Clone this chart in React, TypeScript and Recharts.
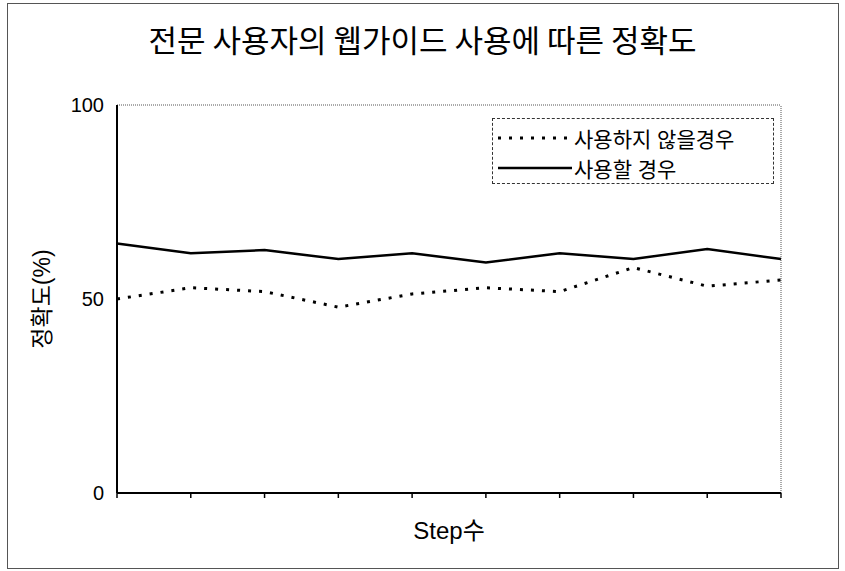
import React from 'react';
import {
  LineChart,
  Line,
  XAxis,
  YAxis,
  ReferenceLine,
  Legend,
} from 'recharts';

const steps = ['1', '2', '3', '4', '5', '6', '7', '8', '9', '10'];
const withoutGuide = [50, 52.9, 51.9, 47.9, 51.3, 52.9, 51.9, 58.1, 53.3, 54.9];
const withGuide = [64.3, 61.8, 62.6, 60.3, 61.8, 59.4, 61.8, 60.3, 62.9, 60.3];
const yTicks = [0, 50, 100];

const SERIES_NO = '사용하지 않을경우';
const SERIES_YES = '사용할 경우';

const data = steps.map((s, i) => ({
  step: s,
  [SERIES_NO]: withoutGuide[i],
  [SERIES_YES]: withGuide[i],
}));

const FONT = '"Liberation Sans", "Noto Sans CJK KR", sans-serif';

const LegendBox = ({ payload }: any) => (
  <div
    style={{
      border: '1px dashed #333',
      width: 282,
      height: 66,
      boxSizing: 'border-box',
      padding: '4px 0 0 5px',
      fontFamily: FONT,
      fontSize: 21,
      color: '#000',
      background: '#fff',
    }}
  >
    {(payload || []).map((p: any) => (
      <div
        key={p.value}
        style={{ display: 'flex', alignItems: 'center', height: 30 }}
      >
        <svg width={76} height={10}>
          <line
            x1={0}
            y1={5}
            x2={74}
            y2={5}
            stroke="#000"
            strokeWidth={p.value === SERIES_NO ? 3 : 2.5}
            strokeDasharray={p.value === SERIES_NO ? '3 8' : undefined}
          />
        </svg>
        <span>{p.value}</span>
      </div>
    ))}
  </div>
);

export default function App() {
  return (
    <div
      style={{
        position: 'absolute',
        left: 0,
        top: 0,
        width: 845,
        height: 571,
        background: '#fff',
        fontFamily: FONT,
      }}
    >
      <div
        style={{
          position: 'absolute',
          left: 7,
          top: 3,
          width: 830,
          height: 564,
          border: '1px solid #555',
        }}
      />
      <div
        style={{
          position: 'absolute',
          left: 0,
          top: 16,
          width: 845,
          textAlign: 'center',
          fontSize: 31,
          fontFamily: '"Noto Sans CJK KR", sans-serif',
          color: '#000',
        }}
      >
        전문 사용자의 웹가이드 사용에 따른 정확도
      </div>
      <div style={{ position: 'absolute', left: 0, top: 0 }}>
        <LineChart
          width={845}
          height={571}
          data={data}
          margin={{ top: 105, right: 64, bottom: 78, left: 42 }}
        >
          <ReferenceLine y={100} stroke="#555" strokeDasharray="1 1" />
          <ReferenceLine x="10" stroke="#555" strokeDasharray="1 1" />
          <XAxis
            dataKey="step"
            height={30}
            mirror
            tickFormatter={() => ''}
            tickSize={-5}
            tickLine={{ stroke: '#000', strokeWidth: 1.5 }}
            axisLine={{ stroke: '#000', strokeWidth: 2 }}
            label={{
              value: 'Step수',
              position: 'bottom',
              offset: 29,
              style: { fontSize: 24, fill: '#000', fontFamily: FONT },
            }}
          />
          <YAxis
            width={75}
            domain={[0, 100]}
            ticks={yTicks}
            tickLine={false}
            tickSize={0}
            tickMargin={13}
            axisLine={{ stroke: '#000', strokeWidth: 2 }}
            tick={{ fontSize: 20, fill: '#000', fontFamily: FONT }}
            label={{
              value: '정확도(%)',
              angle: -90,
              position: 'insideLeft',
              offset: 0,
              style: {
                textAnchor: 'middle',
                fontSize: 23,
                fill: '#000',
                fontFamily: FONT,
              },
            }}
          />
          <Legend
            layout="vertical"
            verticalAlign="middle"
            align="center"
            wrapperStyle={{ left: 492, top: 118, width: 284 }}
            content={<LegendBox />}
          />
          <Line
            type="linear"
            dataKey={SERIES_NO}
            stroke="#000"
            strokeWidth={3}
            strokeDasharray="3 8"
            dot={false}
            activeDot={false}
            isAnimationActive={false}
          />
          <Line
            type="linear"
            dataKey={SERIES_YES}
            stroke="#000"
            strokeWidth={2.5}
            dot={false}
            activeDot={false}
            isAnimationActive={false}
          />
        </LineChart>
      </div>
    </div>
  );
}
